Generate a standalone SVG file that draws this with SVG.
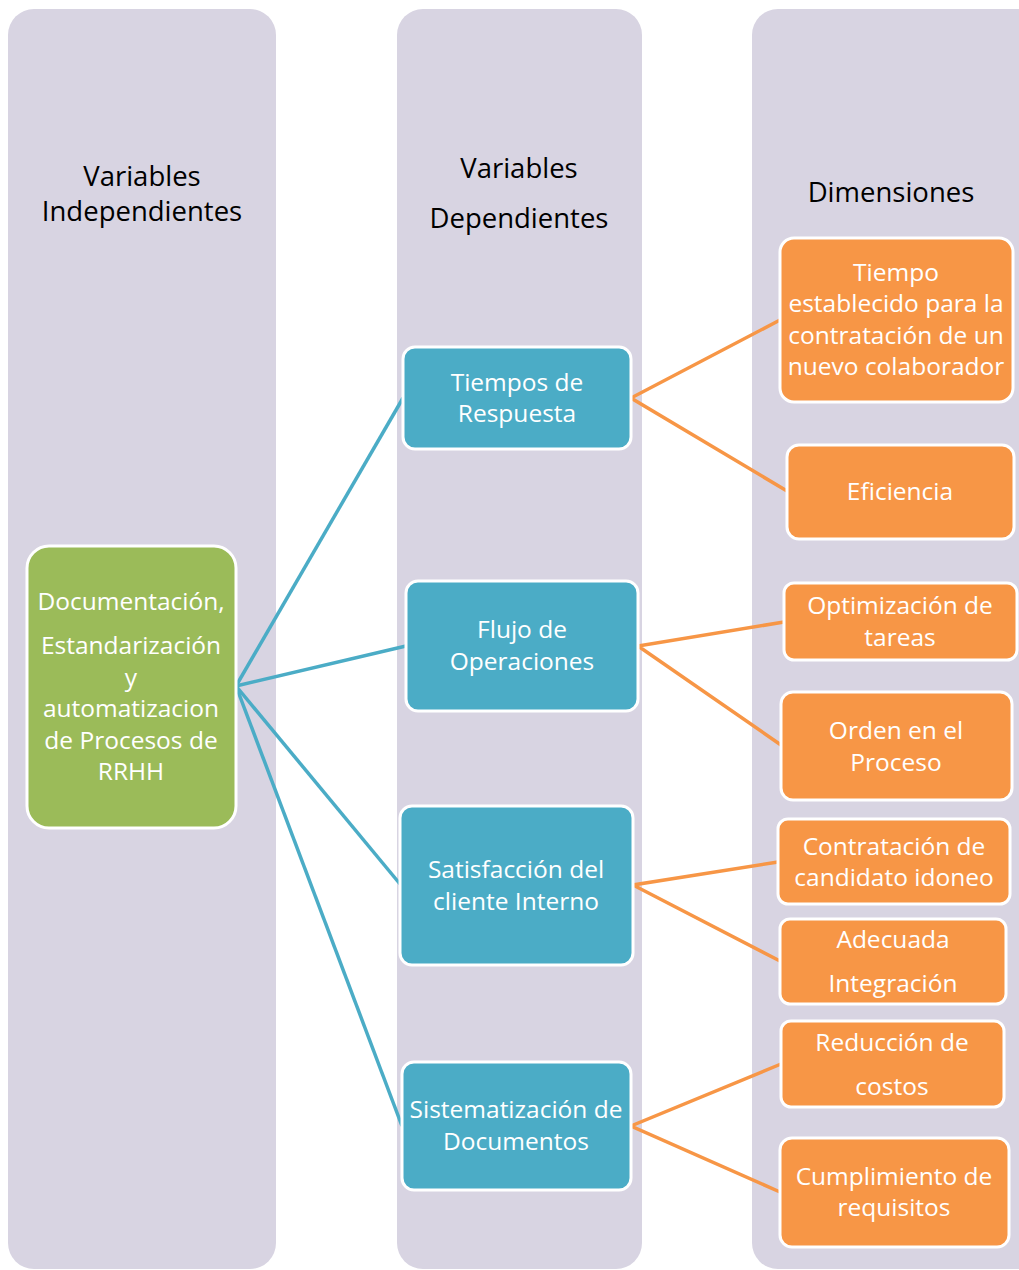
<svg xmlns="http://www.w3.org/2000/svg" width="1019" height="1270" viewBox="0 0 1019 1270">
  <style>
    .col { fill: #D8D4E2; }
    .head { font-family: "Open Sans", "Liberation Sans", sans-serif; font-size: 27.5px; fill: #000; text-anchor: middle; }
    .lbl { font-family: "Open Sans", "Liberation Sans", sans-serif; font-size: 24.5px; fill: #fff; text-anchor: middle; }
    .green { fill: #9BBB59; stroke: #fff; stroke-width: 3; }
    .blue { fill: #4BACC6; stroke: #fff; stroke-width: 3; }
    .orange { fill: #F79646; stroke: #fff; stroke-width: 3; }
    .cb { stroke: #4BACC6; stroke-width: 3.5; fill: none; }
    .co { stroke: #F79646; stroke-width: 3.5; fill: none; }
  </style>

  <rect width="1019" height="1270" fill="#fff"/>

  <!-- background columns -->
  <g id="columns">
    <rect class="col" x="8" y="9" width="268" height="1260" rx="26"/>
    <rect class="col" x="397" y="9" width="245" height="1260" rx="26"/>
    <rect class="col" x="752" y="9" width="300" height="1260" rx="26"/>
  </g>

  <g id="headings">
    <text class="head" x="142" y="186">Variables</text>
    <text class="head" x="142" y="221">Independientes</text>
    <text class="head" x="519" y="178">Variables</text>
    <text class="head" x="519" y="228">Dependientes</text>
    <text class="head" x="891" y="202">Dimensiones</text>
  </g>

  <!-- connectors -->
  <g id="connectors">
    <path class="cb" d="M236 686 L403 398"/>
    <path class="cb" d="M236 686 L406 646"/>
    <path class="cb" d="M236 686 L400 884"/>
    <path class="cb" d="M236 686 L402 1126"/>
    <path class="co" d="M780 320 L631 398 L787 491"/>
    <path class="co" d="M784 622 L638 646 L781 745"/>
    <path class="co" d="M778 862 L633 885 L780 961"/>
    <path class="co" d="M781 1064 L631 1126 L780 1192"/>
  </g>

  <g id="n-doc">
    <rect class="green" x="27" y="546" width="209" height="282" rx="22"/>
    <text class="lbl" x="131" y="610">Documentación,</text>
    <text class="lbl" x="131" y="654">Estandarización</text>
    <text class="lbl" x="131" y="686">y</text>
    <text class="lbl" x="131" y="717">automatizacion</text>
    <text class="lbl" x="131" y="749">de Procesos de</text>
    <text class="lbl" x="131" y="780">RRHH</text>
  </g>

  <g id="n-tiempos">
    <rect class="blue" x="403" y="347" width="228" height="102" rx="12"/>
    <text class="lbl" x="517" y="391">Tiempos de</text>
    <text class="lbl" x="517" y="422">Respuesta</text>
  </g>
  <g id="n-flujo">
    <rect class="blue" x="406" y="581" width="232" height="130" rx="12"/>
    <text class="lbl" x="522" y="638">Flujo de</text>
    <text class="lbl" x="522" y="670">Operaciones</text>
  </g>
  <g id="n-satisfaccion">
    <rect class="blue" x="400" y="806" width="233" height="159" rx="12"/>
    <text class="lbl" x="516" y="878">Satisfacción del</text>
    <text class="lbl" x="516" y="910">cliente Interno</text>
  </g>
  <g id="n-sistematizacion">
    <rect class="blue" x="402" y="1062" width="229" height="128" rx="12"/>
    <text class="lbl" x="516" y="1118">Sistematización de</text>
    <text class="lbl" x="516" y="1150">Documentos</text>
  </g>

  <g id="d-tiempo">
    <rect class="orange" x="780" y="238" width="233" height="164" rx="14"/>
    <text class="lbl" x="896" y="281">Tiempo</text>
    <text class="lbl" x="896" y="312">establecido para la</text>
    <text class="lbl" x="896" y="344">contratación de un</text>
    <text class="lbl" x="896" y="375">nuevo colaborador</text>
  </g>
  <g id="d-eficiencia">
    <rect class="orange" x="787" y="445" width="227" height="94" rx="12"/>
    <text class="lbl" x="900" y="500">Eficiencia</text>
  </g>
  <g id="d-optimizacion">
    <rect class="orange" x="784" y="583" width="233" height="77" rx="10"/>
    <text class="lbl" x="900" y="614">Optimización de</text>
    <text class="lbl" x="900" y="646">tareas</text>
  </g>
  <g id="d-orden">
    <rect class="orange" x="781" y="692" width="231" height="108" rx="12"/>
    <text class="lbl" x="896" y="739">Orden en el</text>
    <text class="lbl" x="896" y="771">Proceso</text>
  </g>
  <g id="d-contratacion">
    <rect class="orange" x="778" y="819" width="232" height="85" rx="10"/>
    <text class="lbl" x="894" y="855">Contratación de</text>
    <text class="lbl" x="894" y="886">candidato idoneo</text>
  </g>
  <g id="d-integracion">
    <rect class="orange" x="780" y="919" width="226" height="85" rx="10"/>
    <text class="lbl" x="893" y="948">Adecuada</text>
    <text class="lbl" x="893" y="992">Integración</text>
  </g>
  <g id="d-costos">
    <rect class="orange" x="781" y="1021" width="223" height="86" rx="10"/>
    <text class="lbl" x="892" y="1051">Reducción de</text>
    <text class="lbl" x="892" y="1095">costos</text>
  </g>
  <g id="d-requisitos">
    <rect class="orange" x="780" y="1138" width="229" height="109" rx="12"/>
    <text class="lbl" x="894" y="1185">Cumplimiento de</text>
    <text class="lbl" x="894" y="1216">requisitos</text>
  </g>
</svg>
